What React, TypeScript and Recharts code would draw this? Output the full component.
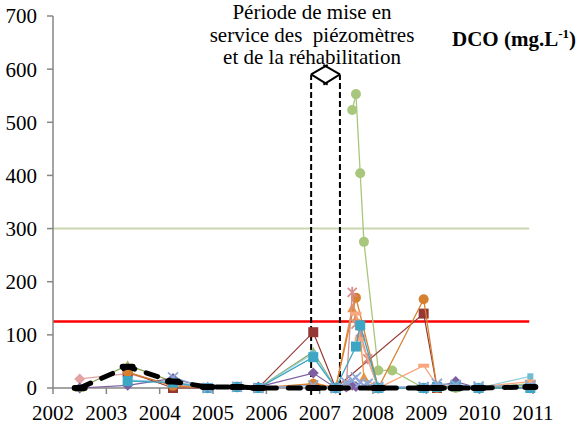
import { ScatterChart, Scatter, XAxis, YAxis, ReferenceLine } from 'recharts';

// sampling dates (decimal years) shared by every series; null = no measurement
const sampleDates = [
  2002.5, 2003.4, 2004.25, 2004.9, 2005.45, 2005.85, 2006.88, 2007.3, 2007.5, 2007.61, 2007.68,
  2007.76, 2007.83, 2007.9, 2008.1, 2008.36, 2008.95, 2009.2, 2009.55, 2009.98, 2010.95,
];

const blackValues = [0, 40, 12, 2, 2, 0, 0, 0, null, null, null, null, null, null, 0, null, 0, 0, 0, 0, 2];
const pinkDiamondValues = [17, 27, 6, 2, 2, 0, null, null, null, null, null, null, null, null, null, null, null, null, null, null, null];
const purpleValues = [0, 5, 18, 0, 2, 2, 28, 0, 2, 5, 3, null, null, null, 0, null, 0, 2, 12, 0, 0];
const tealValues = [null, 13, 10, 0, 2, 0, 58, 0, null, null, 78, 118, null, null, 0, null, 0, 2, 3, 0, 0];
const darkRedValues = [null, 30, 0, 0, 2, 0, 105, 0, null, null, null, null, null, null, null, null, 140, 0, null, null, null];
const orangeCircleValues = [null, 30, 4, 0, 2, 0, 8, 0, null, null, 170, null, null, null, 0, null, 167, 0, 2, 0, 0];
const salmonValues = [null, null, null, null, null, null, null, null, null, null, 140, 92, null, null, 0, null, 42, 5, 3, 2, 12];
const lightBlueValues = [null, null, 20, 0, 2, 0, 5, 0, 10, 15, 20, 10, 5, 8, 2, null, 2, 8, 6, 3, 5];
const pinkStarValues = [null, null, null, null, null, null, null, 0, 5, 180, 120, 105, null, 55, 0, null, null, null, null, null, null];
const greenCircleValues = [null, null, null, null, null, null, null, null, null, 523, 553, 404, 275, null, 33, 33, 0, 0, 0, 0, 8];
const oliveValues = [0, 43, 12, 0, 0, 0, 68, 0, null, null, null, null, null, null, 0, null, 0, 0, 0, 0, 5];
const lightCyanValues = [null, 15, 12, 0, 0, 0, 65, 0, null, null, null, null, null, null, 0, null, 0, 0, 0, 0, 22];
const orangeValues = [null, null, null, null, null, null, 10, 0, null, 150, 130, 100, 20, null, 0, null, 0, 0, 2, 0, 0];

const xTicks = [2002, 2003, 2004, 2005, 2006, 2007, 2008, 2009, 2010, 2011];
const yTicks = [0, 100, 200, 300, 400, 500, 600, 700];

const toPoints = (values: (number | null)[]) =>
  sampleDates
    .map((x, i) => ({ x, y: values[i] }))
    .filter((p) => p.y !== null);

type MarkerKind = 'circle' | 'square' | 'diamond' | 'x' | 'star' | 'dash' | 'triangle' | 'bar';

function marker(kind: MarkerKind, color: string, size = 8) {
  return (props: any) => {
    const { cx, cy } = props;
    if (cx == null || cy == null) return <g />;
    const r = size / 2;
    switch (kind) {
      case 'circle':
        return <circle cx={cx} cy={cy} r={r} fill={color} />;
      case 'square':
        return <rect x={cx - r} y={cy - r} width={size} height={size} fill={color} />;
      case 'diamond':
        return <polygon points={`${cx},${cy - r - 1} ${cx + r + 1},${cy} ${cx},${cy + r + 1} ${cx - r - 1},${cy}`} fill={color} />;
      case 'triangle':
        return <polygon points={`${cx},${cy - r - 1} ${cx + r + 1},${cy + r} ${cx - r - 1},${cy + r}`} fill={color} />;
      case 'x':
        return (
          <g stroke={color} strokeWidth={1.8}>
            <line x1={cx - r} y1={cy - r} x2={cx + r} y2={cy + r} />
            <line x1={cx - r} y1={cy + r} x2={cx + r} y2={cy - r} />
          </g>
        );
      case 'star':
        return (
          <g stroke={color} strokeWidth={1.8}>
            <line x1={cx - r} y1={cy - r} x2={cx + r} y2={cy + r} />
            <line x1={cx - r} y1={cy + r} x2={cx + r} y2={cy - r} />
            <line x1={cx} y1={cy - r - 1} x2={cx} y2={cy + r + 1} />
          </g>
        );
      case 'dash':
        return <rect x={cx - r - 1} y={cy - 2} width={size + 2} height={4} fill={color} />;
      case 'bar':
        return <rect x={cx - 8} y={cy - 3} width={16} height={6} rx={3} fill={color} />;
    }
  };
}

const serif = 'Liberation Serif';
const axisGray = '#868686';

const XTick = ({ x, y, payload }: any) => (
  <text x={x} y={y} dy="0.71em" textAnchor="middle" fill="#000" fontSize={21} style={{ fontFamily: serif }}>
    {payload.value}
  </text>
);

const YTick = ({ x, y, payload }: any) => (
  <text x={x} y={y} dy="0.355em" textAnchor="end" fill="#000" fontSize={21} style={{ fontFamily: serif }}>
    {payload.value}
  </text>
);

export default function App() {
  return (
    <div style={{ position: 'absolute', left: 0, top: 0, width: 581, height: 428, background: '#fff', fontFamily: serif }}>
      <ScatterChart width={581} height={428} margin={{ top: 16, right: 48, bottom: 10, left: 0 }}>
        <XAxis
          type="number"
          dataKey="x"
          domain={[2002, 2011]}
          ticks={xTicks}
          height={30}
          tickSize={6}
          tickMargin={11}
          tick={XTick}
          tickLine={{ stroke: axisGray, strokeWidth: 1.5 }}
          axisLine={{ stroke: axisGray, strokeWidth: 1.5 }}
        />
        <YAxis
          type="number"
          dataKey="y"
          domain={[0, 700]}
          ticks={yTicks}
          width={53}
          tickSize={6}
          tickMargin={10}
          tick={YTick}
          tickLine={{ stroke: axisGray, strokeWidth: 1.5 }}
          axisLine={{ stroke: axisGray, strokeWidth: 1.5 }}
        />
        <ReferenceLine segment={[{ x: 2002, y: 300 }, { x: 2010.93, y: 300 }]} stroke="#C9D7AE" strokeWidth={2} />
        <ReferenceLine segment={[{ x: 2002, y: 125 }, { x: 2010.93, y: 125 }]} stroke="#FF0000" strokeWidth={2.5} />

        <Scatter data={toPoints(greenCircleValues)} fill="#A8C77C" line={{ stroke: '#A8C77C', strokeWidth: 1.3 }} shape={marker('circle', '#A8C77C', 10)} isAnimationActive={false} />
        <Scatter data={toPoints(pinkDiamondValues)} fill="#E3A3A3" line={{ stroke: '#E3A3A3', strokeWidth: 1.3 }} shape={marker('diamond', '#E3A3A3', 9)} isAnimationActive={false} />
        <Scatter data={toPoints(oliveValues)} fill="#86A04C" line={{ stroke: '#86A04C', strokeWidth: 1.2 }} shape={marker('triangle', '#9BBB59', 8)} isAnimationActive={false} />
        <Scatter data={toPoints(lightCyanValues)} fill="#93CDDD" line={{ stroke: '#93CDDD', strokeWidth: 1.2 }} shape={marker('square', '#6FBCD3', 6)} isAnimationActive={false} />
        <Scatter data={toPoints(purpleValues)} fill="#7D5FA0" line={{ stroke: '#7D5FA0', strokeWidth: 1.2 }} shape={marker('diamond', '#7D5FA0', 9)} isAnimationActive={false} />
        <Scatter data={toPoints(darkRedValues)} fill="#953735" line={{ stroke: '#953735', strokeWidth: 1.2 }} shape={marker('square', '#953735', 10)} isAnimationActive={false} />
        <Scatter data={toPoints(orangeValues)} fill="#F0923A" line={{ stroke: '#F0923A', strokeWidth: 1.2 }} shape={marker('triangle', '#F0923A', 8)} isAnimationActive={false} />
        <Scatter data={toPoints(orangeCircleValues)} fill="#D5812F" line={{ stroke: '#D5812F', strokeWidth: 1.3 }} shape={marker('circle', '#D5812F', 10)} isAnimationActive={false} />
        <Scatter data={toPoints(pinkStarValues)} fill="#D68F8C" line={{ stroke: '#D68F8C', strokeWidth: 1.3 }} shape={marker('star', '#D68F8C', 9)} isAnimationActive={false} />
        <Scatter data={toPoints(salmonValues)} fill="#F8A77F" line={{ stroke: '#F8A77F', strokeWidth: 1.3 }} shape={marker('dash', '#F8A77F', 9)} isAnimationActive={false} />
        <Scatter data={toPoints(tealValues)} fill="#3DA6C4" line={{ stroke: '#3DA6C4', strokeWidth: 1.3 }} shape={marker('square', '#3DA6C4', 10)} isAnimationActive={false} />
        <Scatter data={toPoints(lightBlueValues)} fill="#8EA8D6" line={{ stroke: '#8EA8D6', strokeWidth: 1.3 }} shape={marker('x', '#8EA8D6', 10)} isAnimationActive={false} />
        <Scatter data={toPoints(blackValues)} fill="#000" line={{ stroke: '#000', strokeWidth: 5, strokeDasharray: '12 12', strokeLinecap: 'round' }} shape={marker('bar', '#000')} isAnimationActive={false} />

        {/* commissioning / rehabilitation period */}
        <ReferenceLine segment={[{ x: 2006.84, y: -13 }, { x: 2006.84, y: 590 }]} stroke="#000" strokeWidth={2} strokeDasharray="6 3" ifOverflow="visible" />
        <ReferenceLine segment={[{ x: 2007.38, y: -13 }, { x: 2007.38, y: 590 }]} stroke="#000" strokeWidth={2} strokeDasharray="6 3" ifOverflow="visible" />
        <ReferenceLine segment={[{ x: 2006.84, y: 590 }, { x: 2007.15, y: 608 }]} stroke="#000" strokeWidth={2} ifOverflow="visible" />
        <ReferenceLine segment={[{ x: 2006.84, y: 590 }, { x: 2007.15, y: 571 }]} stroke="#000" strokeWidth={2} ifOverflow="visible" />
        <ReferenceLine segment={[{ x: 2007.38, y: 590 }, { x: 2007.07, y: 608 }]} stroke="#000" strokeWidth={2} ifOverflow="visible" />
        <ReferenceLine segment={[{ x: 2007.38, y: 590 }, { x: 2007.07, y: 571 }]} stroke="#000" strokeWidth={2} ifOverflow="visible" />
      </ScatterChart>

      <div
        style={{
          position: 'absolute',
          left: 182,
          top: 1,
          width: 260,
          textAlign: 'center',
          fontSize: 21,
          lineHeight: '22.5px',
          whiteSpace: 'pre',
          color: '#000',
        }}
      >
        {'Période de mise en\nservice des  piézomètres\net de la réhabilitation'}
      </div>
      <div style={{ position: 'absolute', left: 452, top: 28, fontSize: 21, fontWeight: 'bold', whiteSpace: 'nowrap', lineHeight: '22px' }}>
        DCO (mg.L<sup style={{ fontSize: '0.62em', lineHeight: 0 }}>-1</sup>)
      </div>
    </div>
  );
}
